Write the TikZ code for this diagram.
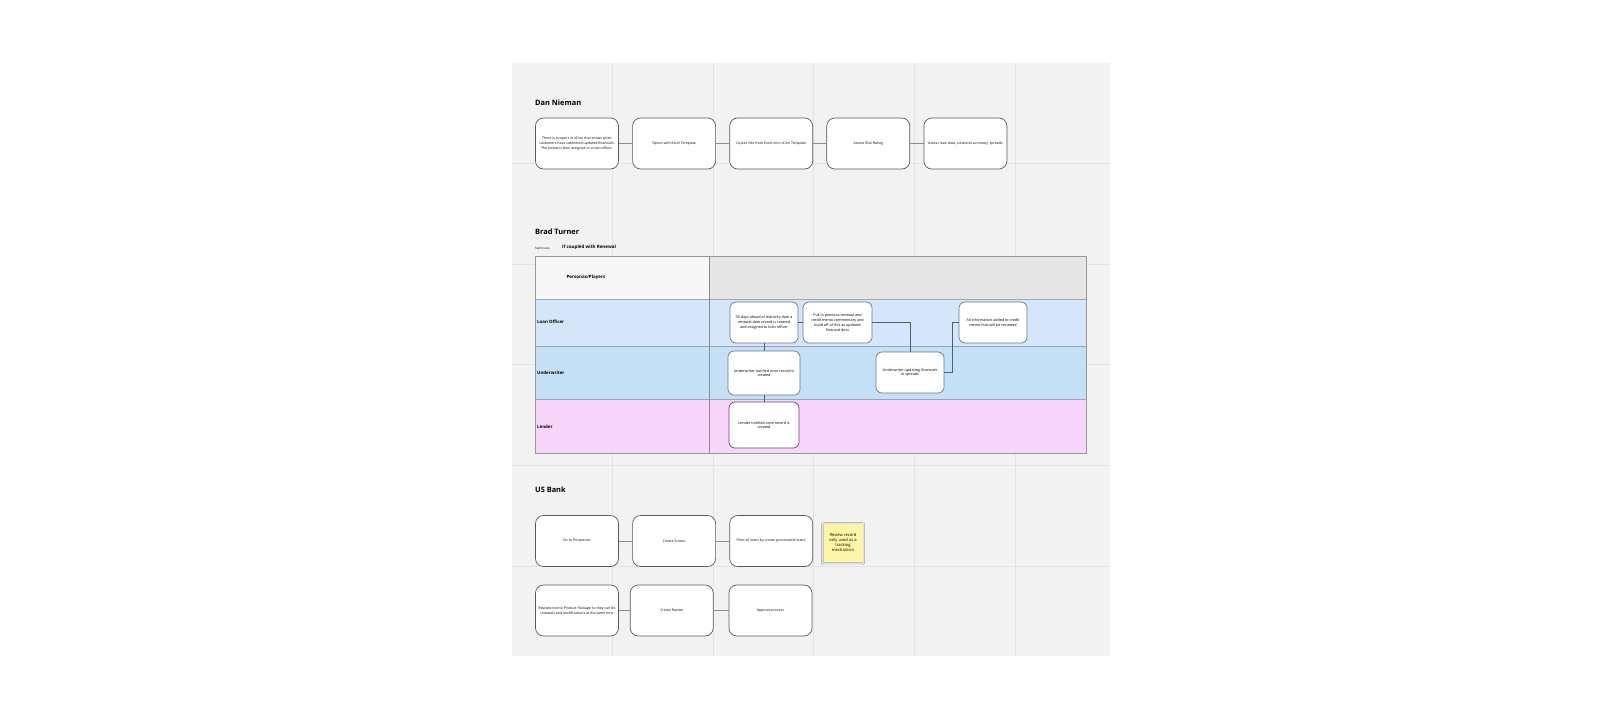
\documentclass[tikz,border=0pt]{standalone}
\usepackage{fontspec}
\setmainfont{Open Sans}
\usepackage{xcolor}
\usetikzlibrary{positioning,shadows.blur}
\definecolor{board}{HTML}{F2F2F2}
\definecolor{gridln}{HTML}{E3E3E3}
\definecolor{headgray}{HTML}{E5E5E5}
\definecolor{lanelo}{HTML}{D5E6FB}
\definecolor{laneuw}{HTML}{C4E0F7}
\definecolor{laneld}{HTML}{F8D6FB}
\definecolor{laneline}{HTML}{9AA6B3}
\definecolor{flowline}{HTML}{46617A}
\definecolor{stickyyel}{HTML}{FDF6A6}
\tikzset{
	title/.style={anchor=west, inner sep=0pt, font=\fontsize{7.4}{8.5}\selectfont\bfseries},
	card/.style={draw=black!65, fill=white, rounded corners=8pt, line width=0.7pt,
			minimum width=83pt, minimum height=51pt, align=center, inner sep=1pt,
			font=\fontsize{3.5}{4.6}\selectfont},
	lanecard/.style={draw=flowline!85, fill=white, rounded corners=6pt, line width=0.7pt,
			minimum width=68pt, minimum height=41pt, align=center, inner sep=1pt,
			font=\fontsize{3.7}{4.8}\selectfont},
	link/.style={draw=black!45, line width=0.6pt},
	flow/.style={draw=flowline, line width=0.7pt},
	lanelabel/.style={anchor=west, inner sep=0pt, font=\fontsize{4.4}{5}\selectfont\bfseries},
	gridline/.style={draw=gridln, line width=0.7pt}
}

\begin{document}
\begin{tikzpicture}[x=1pt, y=-1pt]
	% Page and board
	\fill[white] (0,0) rectangle (1598,721);
	\useasboundingbox (0,0) rectangle (1598,721);
	\fill[board] (512,63) rectangle (1110,656);
	\foreach \i in {1,...,5} {
			\draw[gridline] ({512+100.6*\i},63) -- ({512+100.6*\i},656);
			\draw[gridline] (512,{63+100.6*\i}) -- (1110,{63+100.6*\i});
		}

	% Dan Nieman
	\node[title] (dntitle) at (535,103) {Dan Nieman};
	\node[card] (dn1) at (577,143.5) {There is a report in nCino that shows when\\customers have submitted updated financials.\\The review is then assigned to a loan officer.};
	\node[card, right=13.4pt of dn1] (dn2) {Opens with Excel Template};
	\node[card, right=13.4pt of dn2] (dn3) {Copies info from Excel into nCino Template};
	\node[card, right=13.4pt of dn3] (dn4) {Assess Risk Rating};
	\node[card, right=13.4pt of dn4] (dn5) {Assess loan data, collateral summary, spreads};
	\draw[link] (dn1) -- (dn2);
	\draw[link] (dn2) -- (dn3);
	\draw[link] (dn3) -- (dn4);
	\draw[link] (dn4) -- (dn5);

	% Brad Turner
	\node[title] (bttitle) at (535,232) {Brad Turner};
	\node[anchor=west, inner sep=0pt, font=\fontsize{3}{3.5}\selectfont] (swim) at (535,248) {Swim lane};
	\node[anchor=west, inner sep=0pt, font=\fontsize{4.5}{5}\selectfont\bfseries] (renewal) at (562,247.5) {If coupled with Renewal};

	% Swim lane table
	\fill[board!60!white] (535,256) rectangle (709,299);
	\fill[headgray] (709,256) rectangle (1086,299);
	\fill[lanelo] (535,299) rectangle (1086,346);
	\fill[laneuw] (535,346) rectangle (1086,399);
	\fill[laneld] (535,399) rectangle (1086,453);
	\draw[black!35, line width=1pt] (535,299) -- (1086,299);
	\draw[laneline, line width=0.8pt] (535,346) -- (1086,346);
	\draw[laneline, line width=0.8pt] (535,399) -- (1086,399);
	\draw[black!45, line width=0.7pt] (709,256) -- (709,453);
	\draw[black!40, line width=0.8pt] (535,256) rectangle (1086,453);

	\node[font=\fontsize{4.5}{5}\selectfont\bfseries] (players) at (586,277) {Personas/Players};
	\node[lanelabel] (lo) at (537,322) {Loan Officer};
	\node[lanelabel] (uw) at (537,373) {Underwriter};
	\node[lanelabel] (ld) at (537,427) {Lender};

	\node[lanecard] (ra) at (764,322.5) {90 days ahead of maturity date a\\renewal date record is created\\and assigned to loan officer};
	\node[lanecard, minimum width=69pt] (rb) at (837.5,322.5) {Pull in previous renewal and\\credit memo commentary and\\build off of this as updated\\financial docs};
	\node[lanecard] (rc) at (993,322.5) {All information added to credit\\memo that will be reviewed};
	\node[lanecard, minimum width=72pt, minimum height=44pt] (rd) at (764,373) {Underwriter  notified once record is\\created};
	\node[lanecard] (re) at (910,372.5) {Underwriter updating financials\\in spreads};
	\node[lanecard, draw=violet!45!black!75, minimum width=70pt, minimum height=46pt] (rf) at (764,425) {Lender notified once record is\\created};
	\draw[flow] (ra) -- (rd);
	\draw[flow] (rd) -- (rf);
	\draw[flow] (ra) -- (rb);
	\draw[flow] (rb.east) -| (re.north);
	\draw[flow] (re.east) -- ++(8,0) |- (rc.west);

	% US Bank
	\node[title] (ubtitle) at (535,490) {US Bank};
	\node[card] (ub1) at (577,541) {Go to Prospector};
	\node[card, right=13.4pt of ub1] (ub2) {Create Screen};
	\node[card, right=13.4pt of ub2] (ub3) {Filter all loans by `create processable loans'};
	\draw[link] (ub1) -- (ub2);
	\draw[link] (ub2) -- (ub3);
	\node[fill=stickyyel, minimum width=39pt, minimum height=38pt, align=center, inner sep=1pt,
		font=\fontsize{4.1}{5.3}\selectfont,
		blur shadow={shadow xshift=0pt, shadow yshift=-1.2pt, shadow blur steps=4, shadow opacity=35}]
	(sticky) at (843,542.5) {Review record\\only used as a\\tracking\\mechanism};

	\node[card] (ub4) at (577,610.5) {Reviews tied to Product Package so they can do\\renewals and modifications at the same time};
	\node[card, right=11pt of ub4] (ub5) {Create Review};
	\node[card, right=15pt of ub5] (ub6) {Approve process};
	\draw[link] (ub4) -- (ub5);
	\draw[link] (ub5) -- (ub6);
\end{tikzpicture}
\end{document}
